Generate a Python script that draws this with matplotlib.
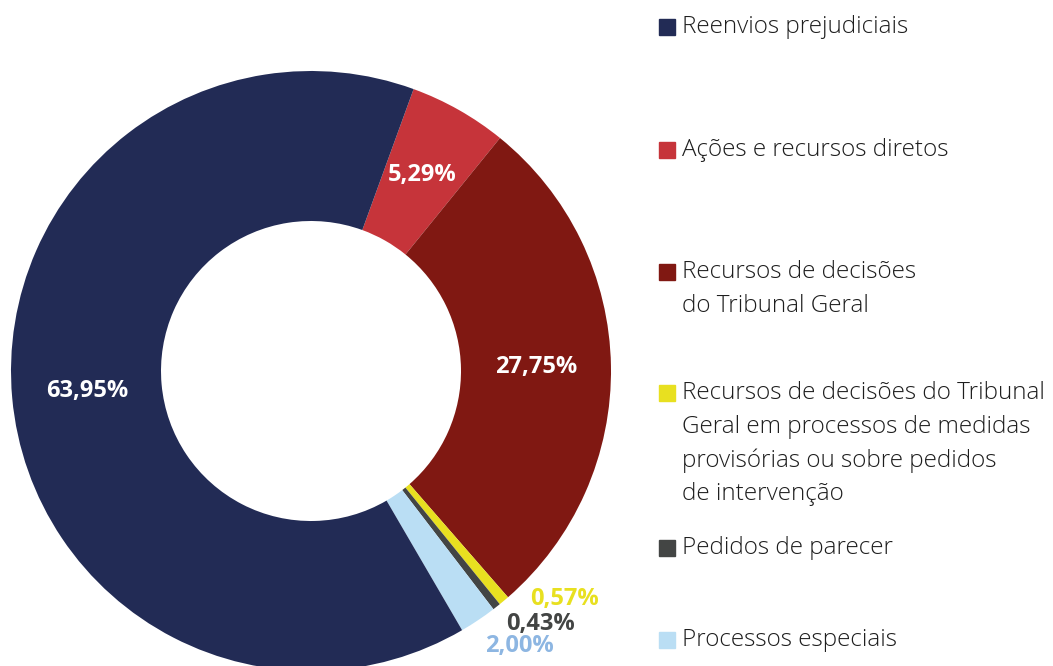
import numpy as np
import matplotlib
matplotlib.use('Agg')
import matplotlib.pyplot as plt
from matplotlib.patches import Rectangle

plt.rcParams['font.family'] = ['Open Sans', 'DejaVu Sans']

# Data
categorias = ['Reenvios prejudiciais',
              'Ações e recursos diretos',
              'Recursos de decisões\ndo Tribunal Geral',
              'Recursos de decisões do Tribunal\nGeral em processos de medidas\nprovisórias ou sobre pedidos\nde intervenção',
              'Pedidos de parecer',
              'Processos especiais']
valores = [63.95, 5.29, 27.75, 0.57, 0.43, 2.00]
rotulos = ['63,95%', '5,29%', '27,75%', '0,57%', '0,43%', '2,00%']
cores = ['#222B55', '#C6343A', '#801812', '#E8E020', '#434544', '#BADEF4']
cores_rotulo = ['white', 'white', 'white', '#E8E020', '#434544', '#8DB6E2']

W, H = 1053, 666
fig = plt.figure(figsize=(10.53, 6.66), dpi=100)
ax = fig.add_axes([0, 0, 1, 1])

cx, cy, R = 311, H - 371, 300

# ring goes clockwise: Ações, Recursos, ..., Processos especiais, Reenvios
ordem = [1, 2, 3, 4, 5, 0]
wedges, _ = ax.pie([valores[i] for i in ordem], colors=[cores[i] for i in ordem],
                   startangle=70, counterclock=False,
                   center=(cx, cy), radius=R, frame=True,
                   wedgeprops=dict(width=150, edgecolor='none'))
ax.set_xlim(0, W)
ax.set_ylim(0, H)
ax.set_aspect('equal')
ax.axis('off')

# offsets for small slices (pixels from outer edge)
desloc = {3: (61, 2), 4: (44, -17), 5: (41, -26)}
for w, i in zip(wedges, ordem):
    ang = np.deg2rad((w.theta1 + w.theta2) / 2)
    if i in desloc:
        x = cx + R * np.cos(ang) + desloc[i][0]
        y = cy + R * np.sin(ang) + desloc[i][1]
    else:
        x = cx + 0.75 * R * np.cos(ang)
        y = cy + 0.75 * R * np.sin(ang)
    ax.text(x, y, rotulos[i], color=cores_rotulo[i], fontsize=17,
            fontweight='bold', ha='center', va='center')

# Legend
leg_y = [27, 150, 272, 393, 548, 640]
for i, nome in enumerate(categorias):
    ax.add_patch(Rectangle((659, H - leg_y[i] - 8), 16, 16, color=cores[i]))
    ax.text(682, H - leg_y[i] + 12, nome, fontsize=17.5, color='#1e1e1e',
            ha='left', va='top', linespacing=1.53, fontweight='light')

fig.savefig('out.png', dpi=100)
